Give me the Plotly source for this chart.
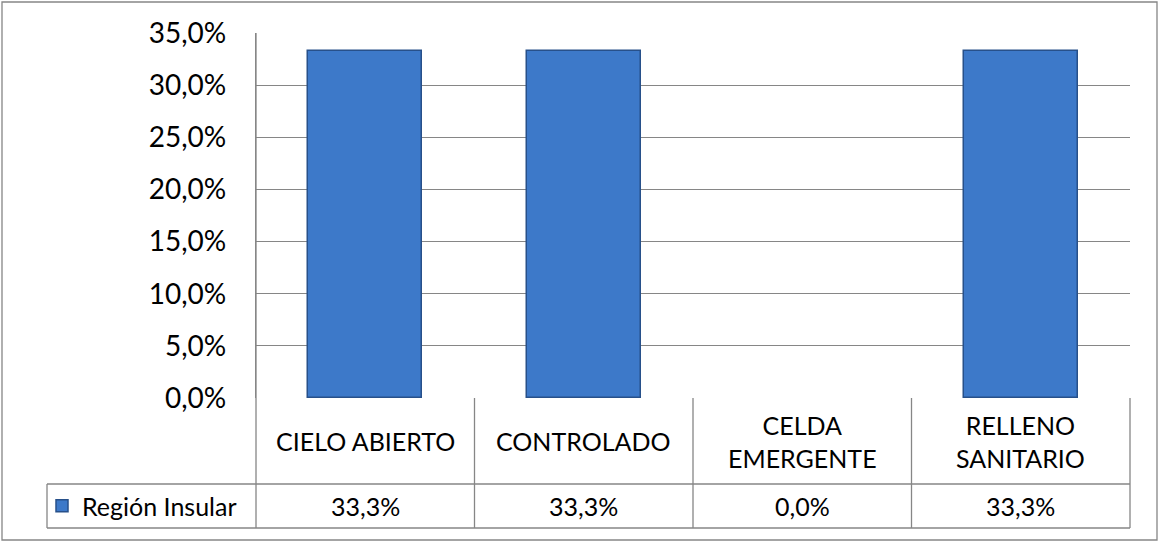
import plotly.graph_objects as go

categories = ["CIELO ABIERTO", "CONTROLADO", "CELDA<br>EMERGENTE", "RELLENO<br>SANITARIO"]
values = [0.333, 0.333, 0.0, 0.333]
series_name = "Región Insular"
tick_vals = [0, 0.05, 0.10, 0.15, 0.20, 0.25, 0.30, 0.35]

W, H = 1159, 544
L, R, T, B = 256, 1130, 33, 398  # plot area in pixels
FONT = "Lato"
GRID = "#868686"


def px(x):
    return (x - L) / (R - L)


def py(y):
    return (B - y) / (B - T)


def fmt(v):
    return f"{v * 100:.1f}%".replace(".", ",")


fig = go.Figure()
fig.add_trace(
    go.Bar(
        x=list(range(len(categories))),
        y=values,
        name=series_name,
        width=0.52,
        marker=dict(
            color="#3d79c9",
            line=dict(color="#27508a", width=[1.5 if v > 0 else 0 for v in values]),
        ),
        showlegend=True,
    )
)

shapes = []
line = dict(color=GRID, width=1.3)
# outer chart border
shapes.append(dict(type="rect", xref="paper", yref="paper",
                   x0=px(2), x1=px(1157), y0=py(540), y1=py(2), line=line))
# data table lines
row1, row2 = 484, 528
shapes.append(dict(type="line", xref="paper", yref="paper",
                   x0=0, x1=1, y0=py(row1), y1=py(row1), line=line))
shapes.append(dict(type="line", xref="paper", yref="paper",
                   x0=px(47), x1=0, y0=py(row1), y1=py(row1), line=line))
shapes.append(dict(type="line", xref="paper", yref="paper",
                   x0=px(47), x1=1, y0=py(row2), y1=py(row2), line=line))
shapes.append(dict(type="line", xref="paper", yref="paper",
                   x0=px(47), x1=px(47), y0=py(row2), y1=py(row1), line=line))
shapes.append(dict(type="line", xref="paper", yref="paper",
                   x0=0, x1=0, y0=py(row2), y1=1, line=line))
shapes.append(dict(type="line", xref="paper", yref="paper",
                   x0=1, x1=1, y0=py(row2), y1=0, line=line))
for i in range(len(categories) - 1):
    shapes.append(dict(type="line", xref="x", yref="paper",
                       x0=i + 0.5, x1=i + 0.5, y0=py(row2), y1=0, line=line))

annotations = []
for i, (cat, v) in enumerate(zip(categories, values)):
    annotations.append(dict(x=i, y=py((B + row1) / 2), xref="x", yref="paper",
                            text=cat, showarrow=False, yanchor="middle",
                            font=dict(family=FONT, size=25, color="black")))
    annotations.append(dict(x=i, y=py((row1 + row2) / 2), xref="x", yref="paper",
                            text=fmt(v), showarrow=False, yanchor="middle",
                            font=dict(family=FONT, size=25, color="black")))

fig.update_layout(
    width=W,
    height=H,
    margin=dict(l=L, r=W - R, t=T, b=H - B, pad=0),
    paper_bgcolor="white",
    plot_bgcolor="white",
    separators=",.",
    bargap=0,
    shapes=shapes,
    annotations=annotations,
    showlegend=True,
    legend=dict(x=px(42), y=py((row1 + row2) / 2), xanchor="left", yanchor="middle",
                font=dict(family=FONT, size=25, color="black"),
                itemwidth=30, bgcolor="rgba(0,0,0,0)"),
    font=dict(family=FONT, color="black"),
)
fig.update_xaxes(
    range=[-0.5, len(categories) - 0.5],
    showticklabels=False,
    showgrid=False,
    zeroline=False,
    showline=False,
    fixedrange=True,
)
fig.update_yaxes(
    range=[0, 0.35],
    tickvals=tick_vals,
    tickformat=".1%",
    showgrid=True,
    gridcolor=GRID,
    gridwidth=1.3,
    zeroline=False,
    showline=True,
    linecolor=GRID,
    linewidth=1.3,
    ticks="",
    ticklabelstandoff=23,
    tickfont=dict(family=FONT, size=28, color="black"),
    fixedrange=True,
)

fig.write_html("out.html", config={"displayModeBar": False},
               post_script="document.body.style.margin='0';")
